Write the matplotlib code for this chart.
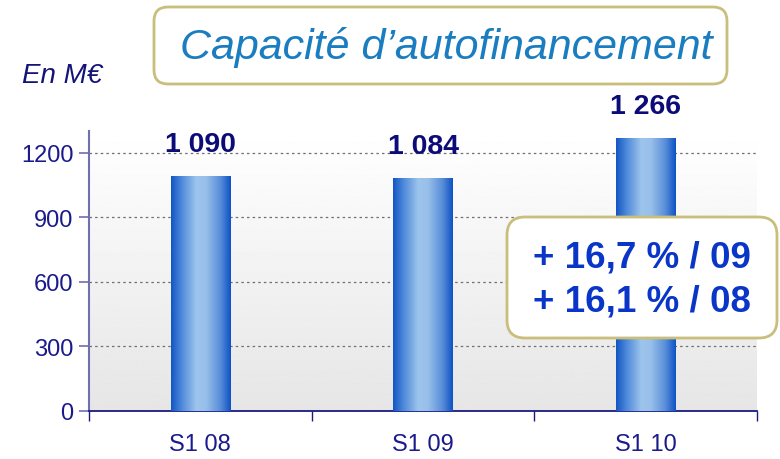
import numpy as np
import matplotlib
matplotlib.use("Agg")
import matplotlib.pyplot as plt
from matplotlib.colors import LinearSegmentedColormap
from matplotlib.patches import FancyBboxPatch

categories = ["S1 08", "S1 09", "S1 10"]
values = [1090, 1084, 1266]
value_labels = ["1 090", "1 084", "1 266"]
yticks = [0, 300, 600, 900, 1200]
title = "Capacité d\u2019autofinancement"
unit = "En M\u20ac"
growth_lines = ["+ 16,7 % / 09", "+ 16,1 % / 08"]

plt.rcParams['font.family'] = ['Liberation Sans', 'DejaVu Sans']

W, H = 780, 460
fig = plt.figure(figsize=(7.8, 4.6), dpi=100)
fig.patch.set_facecolor("white")
ax = fig.add_axes([89 / W, 1 - 412 / H, (757 - 89) / W, (412 - 132) / H])
ax.set_facecolor("none")

x = np.arange(len(categories))
ax.set_xlim(-0.5, len(categories) - 0.5)
ax.set_ylim(0, 1300)

# background gradient
bg = np.linspace(0.90, 1.0, 256).reshape(-1, 1)
ax.imshow(bg, extent=[0, 1, 0, 1], transform=ax.transAxes, aspect='auto',
          cmap='gray', vmin=0, vmax=1, origin='lower', zorder=0)

# grid
for t in yticks[1:]:
    ax.axhline(t, color="#707070", lw=0.9, ls=(0, (2, 2.5)), zorder=1)

bars = ax.bar(x, values, width=0.265, color="none", edgecolor="none", zorder=2)
cmap = LinearSegmentedColormap.from_list("barg", [
    (0.0, "#1256C4"), (0.18, "#4F8ADA"), (0.42, "#9CC4EC"),
    (0.58, "#98C0EA"), (0.82, "#5A8FDA"), (1.0, "#0E52C4")])
grad = np.linspace(0, 1, 256).reshape(1, -1)
for b in bars:
    x0, y0 = b.get_x(), b.get_y()
    im = ax.imshow(grad, extent=[x0, x0 + b.get_width(), y0, y0 + b.get_height()],
                   aspect='auto', cmap=cmap, zorder=3, origin='lower')
    im.set_clip_path(b)

ax.set_xlim(-0.5, len(categories) - 0.5)
ax.set_ylim(0, 1300)

for xi, v, lab in zip(x, values, value_labels):
    ax.annotate(lab, (xi, v), xytext=(0, 23), textcoords='offset points',
                ha='center', va='center', fontsize=20.5, fontweight='bold',
                color="#0C0C78", zorder=5)

# axes styling
for s in ["top", "right"]:
    ax.spines[s].set_visible(False)
ax.spines["left"].set_color("#7070B0")
ax.spines["left"].set_linewidth(1.5)
ax.spines["bottom"].set_color("#1A1A80")
ax.spines["bottom"].set_linewidth(1.3)
ax.set_yticks(yticks)
ax.set_yticklabels([str(t) for t in yticks])
ax.tick_params(axis='y', colors="#7070B0", labelcolor="#1A1A8C", labelsize=17,
               length=7, width=1.2, direction='out', pad=4)
ax.set_xticks(np.arange(len(categories) + 1) - 0.5)
ax.set_xticklabels([])
ax.tick_params(axis='x', which='major', colors="#1A1A80", length=7, width=1.0)
ax.set_xticks(x, minor=True)
ax.set_xticklabels(categories, minor=True)
ax.tick_params(axis='x', which='minor', length=0, labelsize=17,
               labelcolor="#1A1A8C", pad=16)

# title box
def fig_box(x0, y0, x1, y1, lw, ec, rad):
    p = FancyBboxPatch((x0 / W, 1 - y1 / H), (x1 - x0) / W, (y1 - y0) / H,
                       boxstyle=f"round,pad=0,rounding_size={rad / W}",
                       transform=fig.transFigure, facecolor="white",
                       edgecolor=ec, lw=lw, zorder=10,
                       mutation_aspect=W / H)
    fig.patches.append(p)

fig_box(154, 8, 727, 85, 2, "#C9BE7C", 14)
fig.text((154 + 727) / 2 / W + 6 / W, 1 - 47 / H, title, ha='center', va='center',
         fontsize=31, style='italic', color="#1A7DC0", zorder=11)
fig.text(22 / W, 1 - 76 / H, unit, ha='left', va='center', fontsize=20,
         style='italic', color="#141478")

fig_box(507, 218, 777, 339, 2, "#C9BE7C", 18)
fig.text(642 / W, 1 - 258 / H, growth_lines[0], ha='center', va='center',
         fontsize=26.5, fontweight='bold', color="#0A36C8", zorder=11)
fig.text(642 / W, 1 - 302 / H, growth_lines[1], ha='center', va='center',
         fontsize=26.5, fontweight='bold', color="#0A36C8", zorder=11)

fig.savefig("out.png", dpi=100)
